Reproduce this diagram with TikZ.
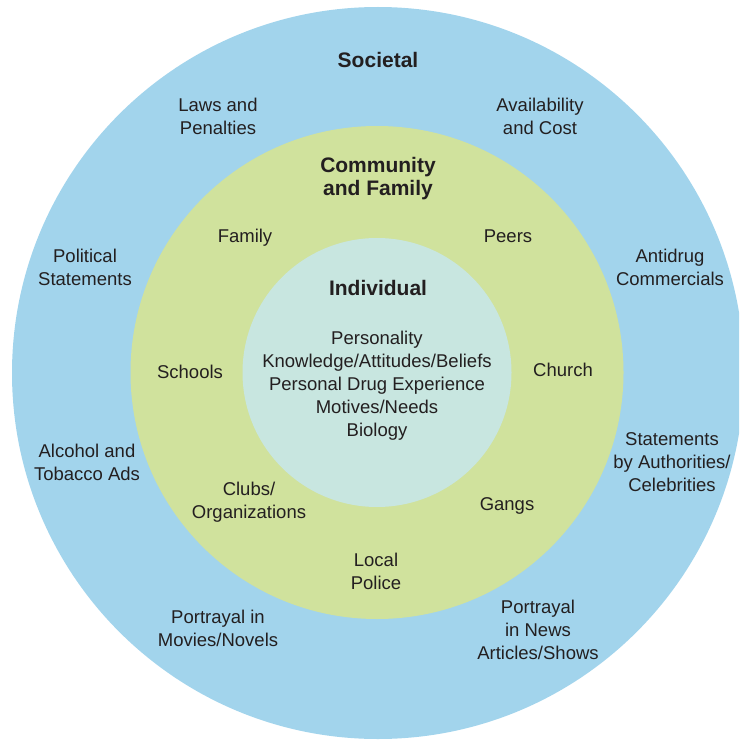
\documentclass[tikz,border=0pt]{standalone}
\usepackage{fontspec}
\setmainfont{Liberation Sans}
\definecolor{societal}{HTML}{A2D4EC}
\definecolor{community}{HTML}{D0E29D}
\definecolor{individual}{HTML}{C8E6E0}
\definecolor{ink}{HTML}{231F20}
\begin{document}
\begin{tikzpicture}[x=1pt,y=-1pt,
  lbl/.style={text=ink,align=center,inner sep=0pt,font=\fontsize{18.5}{23}\selectfont},
  ttl/.style={text=ink,align=center,inner sep=0pt,font=\fontsize{21}{23}\selectfont\bfseries}]
\useasboundingbox (0,0) rectangle (739,741);
\clip (0,0) rectangle (739,741);
\fill[societal] (378,373) circle (366);
\fill[community] (377,372.5) circle (246.5);
\fill[individual] (377,372.5) circle (134.5);
% titles
\node[ttl] (soc) at (378,60) {Societal};
\node[ttl] (com) at (378,179) {Community\\and Family};
\node[ttl] (ind) at (378,288) {Individual};
% societal items
\node[lbl] (laws) at (218,116) {Laws and\\Penalties};
\node[lbl] (avail) at (540,116) {Availability\\and Cost};
\node[lbl] (pol) at (85,267) {Political\\Statements};
\node[lbl] (anti) at (670,267) {Antidrug\\Commercials};
\node[lbl] (alc) at (87,462) {Alcohol and\\Tobacco Ads};
\node[lbl] (stat) at (672,462) {Statements\\by Authorities/\\Celebrities};
\node[lbl] (movies) at (218,628) {Portrayal in\\Movies/Novels};
\node[lbl] (news) at (538,630) {Portrayal\\in News\\Articles/Shows};
% community items
\node[lbl] (fam) at (245,238) {Family};
\node[lbl] (peers) at (508,236) {Peers};
\node[lbl] (schools) at (190,372) {Schools};
\node[lbl] (church) at (563,370) {Church};
\node[lbl] (clubs) at (249,502) {Clubs/\\Organizations};
\node[lbl] (gangs) at (507,506) {Gangs};
\node[lbl] (police) at (376,571) {Local\\Police};
% individual items
\node[lbl] (indlist) at (377,386) {Personality\\Knowledge/Attitudes/Beliefs\\Personal Drug Experience\\Motives/Needs\\Biology};
\end{tikzpicture}
\end{document}
